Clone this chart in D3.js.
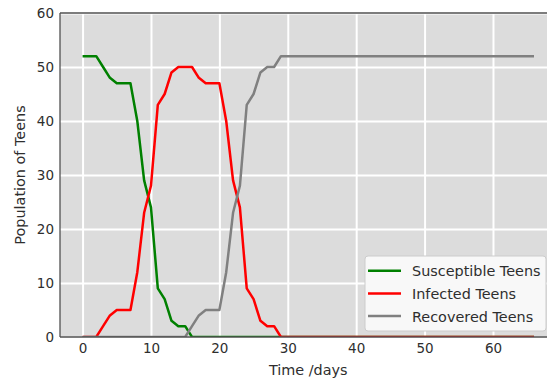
<!DOCTYPE html>
<html>
<head>
<meta charset="utf-8">
<script src="https://cdn.jsdelivr.net/npm/d3@7"></script>
<style>
  html, body { margin: 0; padding: 0; background: #ffffff; }
  svg { display: block; font-family: "DejaVu Sans", sans-serif; }
</style>
</head>
<body>
<svg id="chart" width="547" height="379"></svg>
<script>
// Day index for each model step
const days = [
  0, 1, 2, 3, 4, 5, 6, 7, 8, 9, 10, 11, 12, 13, 14, 15, 16, 17, 18, 19,
  20, 21, 22, 23, 24, 25, 26, 27, 28, 29, 30, 31, 32, 33, 34, 35, 36, 37, 38, 39,
  40, 41, 42, 43, 44, 45, 46, 47, 48, 49, 50, 51, 52, 53, 54, 55, 56, 57, 58, 59,
  60, 61, 62, 63, 64, 65, 66
];

const susceptible = [
  52, 52, 52, 50, 48, 47, 47, 47, 40, 29, 24, 9, 7, 3, 2, 2, 0, 0, 0, 0,
  0, 0, 0, 0, 0, 0, 0, 0, 0, 0, 0, 0, 0, 0, 0, 0, 0, 0, 0, 0,
  0, 0, 0, 0, 0, 0, 0, 0, 0, 0, 0, 0, 0, 0, 0, 0, 0, 0, 0, 0,
  0, 0, 0, 0, 0, 0, 0
];

const infected = [
  0, 0, 0, 2, 4, 5, 5, 5, 12, 23, 28, 43, 45, 49, 50, 50, 50, 48, 47, 47,
  47, 40, 29, 24, 9, 7, 3, 2, 2, 0, 0, 0, 0, 0, 0, 0, 0, 0, 0, 0,
  0, 0, 0, 0, 0, 0, 0, 0, 0, 0, 0, 0, 0, 0, 0, 0, 0, 0, 0, 0,
  0, 0, 0, 0, 0, 0, 0
];

const recovered = [
  0, 0, 0, 0, 0, 0, 0, 0, 0, 0, 0, 0, 0, 0, 0, 0, 2, 4, 5, 5,
  5, 12, 23, 28, 43, 45, 49, 50, 50, 52, 52, 52, 52, 52, 52, 52, 52, 52, 52, 52,
  52, 52, 52, 52, 52, 52, 52, 52, 52, 52, 52, 52, 52, 52, 52, 52, 52, 52, 52, 52,
  52, 52, 52, 52, 52, 52, 52
];

const seriesNames = ["Susceptible Teens", "Infected Teens", "Recovered Teens"];
const seriesColors = ["#008000", "#ff0000", "#808080"];

const xTicks = [0, 10, 20, 30, 40, 50, 60, 70];
const yTicks = [0, 10, 20, 30, 40, 50, 60];
const xLabel = "Time /days";
const yLabel = "Population of Teens";

// Layout
const plot = { left: 60, top: 13, right: 556.6, bottom: 337 };
const tickFont = 13.5, labelFont = 14.4;

const x = d3.scaleLinear().domain([-3.3, 69.3]).range([plot.left, plot.right]);
const y = d3.scaleLinear().domain([0, 60]).range([plot.bottom, plot.top]);

const svg = d3.select("#chart");

// Plot background
svg.append("rect")
  .attr("x", plot.left).attr("y", plot.top)
  .attr("width", plot.right - plot.left).attr("height", plot.bottom - plot.top)
  .attr("fill", "#dcdcdc");

// White grid
const grid = svg.append("g").attr("class", "grid");
grid.append("g")
  .attr("transform", `translate(0,${plot.bottom})`)
  .call(d3.axisBottom(x).tickValues(xTicks).tickSize(-(plot.bottom - plot.top)).tickFormat(""))
  .call(g => g.select(".domain").remove())
  .call(g => g.selectAll("line").attr("stroke", "#ffffff").attr("stroke-width", 2));
grid.append("g")
  .attr("transform", `translate(${plot.left},0)`)
  .call(d3.axisLeft(y).tickValues(yTicks).tickSize(-(plot.right - plot.left)).tickFormat(""))
  .call(g => g.select(".domain").remove())
  .call(g => g.selectAll("line").attr("stroke", "#ffffff").attr("stroke-width", 2));

// Clip data lines to the plot area
svg.append("clipPath").attr("id", "plot-clip")
  .append("rect")
  .attr("x", plot.left).attr("y", plot.top)
  .attr("width", plot.right - plot.left).attr("height", plot.bottom - plot.top);

const line = d3.line()
  .x(d => x(d[0]))
  .y(d => y(d[1]));

const seriesValues = [susceptible, infected, recovered];
const lines = svg.append("g").attr("clip-path", "url(#plot-clip)");
seriesValues.forEach((vals, i) => {
  lines.append("path")
    .datum(days.map((t, k) => [t, vals[k]]))
    .attr("d", line)
    .attr("fill", "none")
    .attr("stroke", seriesColors[i])
    .attr("stroke-width", 2.5)
    .attr("stroke-linejoin", "round")
    .attr("stroke-linecap", "butt");
});

// Spines
const spine = "#505050";
[[plot.left, plot.bottom, plot.right, plot.bottom],
 [plot.left, plot.top, plot.right, plot.top],
 [plot.left, plot.top, plot.left, plot.bottom]].forEach(([x1, y1, x2, y2]) => {
  svg.append("line")
    .attr("x1", x1).attr("y1", y1).attr("x2", x2).attr("y2", y2)
    .attr("stroke", spine).attr("stroke-width", 1.3);
});

// Tick labels
const textColor = "#2e2e2e";
svg.append("g")
  .attr("transform", `translate(0,${plot.bottom})`)
  .call(d3.axisBottom(x).tickValues(xTicks.filter(t => t <= 60)).tickSize(0).tickPadding(6.5).tickFormat(d3.format("d")))
  .call(g => g.select(".domain").remove())
  .call(g => g.selectAll("text").attr("fill", textColor).attr("font-size", tickFont).attr("font-family", "DejaVu Sans, sans-serif"));

svg.append("g")
  .attr("transform", `translate(${plot.left},0)`)
  .call(d3.axisLeft(y).tickValues(yTicks).tickSize(0).tickPadding(6).tickFormat(d3.format("d")))
  .call(g => g.select(".domain").remove())
  .call(g => g.selectAll("text").attr("fill", textColor).attr("font-size", tickFont).attr("font-family", "DejaVu Sans, sans-serif"));

// Axis titles
svg.append("text")
  .attr("x", (plot.left + plot.right) / 2).attr("y", 375)
  .attr("text-anchor", "middle")
  .attr("font-size", labelFont).attr("fill", textColor)
  .text(xLabel);

svg.append("text")
  .attr("transform", `translate(25,${(plot.top + plot.bottom) / 2}) rotate(-90)`)
  .attr("text-anchor", "middle")
  .attr("font-size", labelFont).attr("fill", textColor)
  .text(yLabel);

// Legend
const legend = svg.append("g").attr("transform", "translate(365,256)");
legend.append("rect")
  .attr("x", 0).attr("y", 0).attr("width", 181).attr("height", 75)
  .attr("rx", 3).attr("ry", 3)
  .attr("fill", "#f8f8f8")
  .attr("stroke", "#cccccc").attr("stroke-width", 1);

seriesNames.forEach((name, i) => {
  const cy = 14.7 + i * 22.7;
  legend.append("line")
    .attr("x1", 3).attr("x2", 36)
    .attr("y1", cy).attr("y2", cy)
    .attr("stroke", seriesColors[i]).attr("stroke-width", 2.5);
  legend.append("text")
    .attr("x", 47).attr("y", cy + 5.6)
    .attr("font-size", labelFont).attr("fill", textColor)
    .text(name);
});
</script>
</body>
</html>
